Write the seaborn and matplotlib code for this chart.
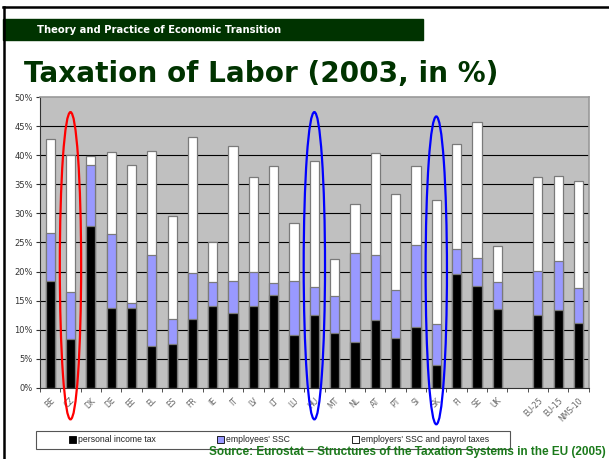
import numpy as np
import pandas as pd
import seaborn as sns
from matplotlib import pyplot as plt
from matplotlib.patches import Ellipse, Rectangle
from matplotlib.lines import Line2D

px = 1/100

countries = ['BE', 'CZ', 'DK', 'DE', 'EE', 'EL', 'ES', 'FR', 'IE', 'IT', 'LV', 'LT', 'LU',
             'HU', 'MT', 'NL', 'AT', 'PT', 'SI', 'SK', 'FI', 'SE', 'UK',
             'EU-25', 'EU-15', 'NMS-10']
income_tax = [18.3, 8.3, 27.8, 13.7, 13.8, 7.1, 7.6, 11.8, 14.1, 12.9, 14.1, 16.0, 9.0,
              12.5, 9.5, 7.8, 11.6, 8.6, 10.4, 3.9, 19.5, 17.5, 13.5,
              12.5, 13.3, 11.1]
employee_ssc = [8.3, 8.2, 10.5, 12.7, 0.7, 15.7, 4.2, 7.9, 4.1, 5.4, 5.9, 2.0, 9.4,
                4.8, 6.3, 15.4, 11.3, 8.2, 14.2, 7.0, 4.3, 4.8, 4.7,
                7.6, 8.5, 6.0]
employer_ssc = [16.3, 23.5, 1.6, 14.1, 23.9, 18.0, 17.8, 23.4, 6.8, 23.4, 16.2, 20.1, 9.9,
                21.7, 6.4, 8.5, 17.5, 16.6, 13.5, 21.4, 18.2, 23.5, 6.2,
                16.1, 14.7, 18.5]
series_names = ['personal income tax', "employees' SSC", "employers' SSC and payrol taxes"]
highlight_red = ['CZ']
highlight_blue = ['HU', 'SK']

df = pd.DataFrame({'country': countries, 'pit': income_tax,
                   'ee': employee_ssc, 'er': employer_ssc})
df['lvl1'] = df['pit']
df['lvl2'] = df['pit'] + df['ee']
df['lvl3'] = df['lvl2'] + df['er']

# empty slot between the countries and the EU aggregates
order = countries[:23] + [' '] + countries[23:]

fig = plt.figure(figsize=(609*px, 459*px), dpi=100)
fig.patch.set_facecolor('white')

ax = fig.add_axes([40/609, 1 - 387.7/459, 548.7/609, 290.4/459])
ax.set_facecolor('#c0c0c0')

bar_kw = dict(x='country', order=order, width=0.45, errorbar=None,
              edgecolor='#7a7a7a', linewidth=0.9, ax=ax, zorder=3)
sns.barplot(data=df, y='lvl3', color='white', saturation=1, **bar_kw)
sns.barplot(data=df, y='lvl2', color='#9999ff', saturation=1, **bar_kw)
sns.barplot(data=df, y='lvl1', color='black', saturation=1, **bar_kw)

ax.set_xlim(-0.5, len(order) - 0.5)
ax.set_ylim(0, 50)
ax.set_xlabel('')
ax.set_ylabel('')

ax.set_yticks(np.arange(0, 51, 5))
ax.set_yticklabels([f'{v}%' for v in range(0, 51, 5)], fontsize=6, color='#333333')
for v in range(5, 50, 5):
    ax.axhline(v, color='black', lw=0.8, zorder=1)

ax.set_xticks(range(len(order)))
ax.set_xticklabels(order, rotation=45, ha='right', rotation_mode='anchor',
                   fontsize=5.5, color='#666666')
ax.set_xticks(np.arange(-0.5, len(order), 1), minor=True)
ax.tick_params(axis='x', which='major', length=0, pad=6)
ax.tick_params(axis='x', which='minor', length=3, color='#333333', direction='out')
ax.tick_params(axis='y', length=3, color='#333333', pad=2)

for side in ['top', 'right']:
    ax.spines[side].set_color('#999999')
    ax.spines[side].set_linewidth(1.2)
ax.spines['left'].set_color('#333333')
ax.spines['bottom'].set_color('#333333')

# highlight ellipses around selected countries
for name, col in [(c, 'red') for c in highlight_red] + [(c, 'blue') for c in highlight_blue]:
    i = order.index(name)
    yc, h = (20.2, 53.0) if name == 'SK' else (21.0, 52.9)
    ax.add_patch(Ellipse((i, yc), 1.05, h, fill=False, edgecolor=col,
                         lw=1.6, clip_on=False, zorder=5))

# legend: frame drawn separately, entries spread like the Excel legend
fig.add_artist(Rectangle((36/609, 1 - 449/459), 474/609, 18/459,
                         transform=fig.transFigure, facecolor='white',
                         edgecolor='#555555', lw=0.8))
handles = [Rectangle((0, 0), 1, 1, facecolor=c, edgecolor='black', lw=0.6)
           for c in ['black', '#9999ff', 'white']]
leg = fig.legend(handles, series_names, loc='center left', ncol=3,
                 bbox_to_anchor=(69/609, 1 - 440/459),
                 prop={'family': 'Liberation Sans', 'size': 6.2},
                 frameon=False, handlelength=0.8, handleheight=0.8,
                 handletextpad=0.2, columnspacing=7.2, borderpad=0, borderaxespad=0)
for t in leg.get_texts():
    t.set_color('#222222')

# slide decorations
fig.add_artist(Rectangle((3/609, 1 - 40/459), 420/609, 21/459,
                         transform=fig.transFigure, color='#003300'))
fig.text(37/609, 1 - 30/459, 'Theory and Practice of Economic Transition',
         color='white', fontsize=7.2, fontweight='bold', va='center')
fig.text(24/609, 1 - 74/459, 'Taxation of Labor (2003, in %)',
         color='#003300', fontsize=20.1, fontweight='bold', va='center')
fig.text(606/609, 1 - 458.5/459,
         'Source: Eurostat \u2013 Structures of the Taxation Systems in the EU (2005)',
         color='#1b7a1b', fontsize=8.5, fontweight='bold', ha='right', va='bottom',
         family='Liberation Sans')
fig.add_artist(Line2D([3/609, 1], [1 - 6.5/459] * 2, transform=fig.transFigure,
                      color='black', lw=1.8))
fig.add_artist(Line2D([4/609] * 2, [0, 1 - 6.5/459], transform=fig.transFigure,
                      color='black', lw=1.8))

plt.savefig('out.png', dpi=100)
